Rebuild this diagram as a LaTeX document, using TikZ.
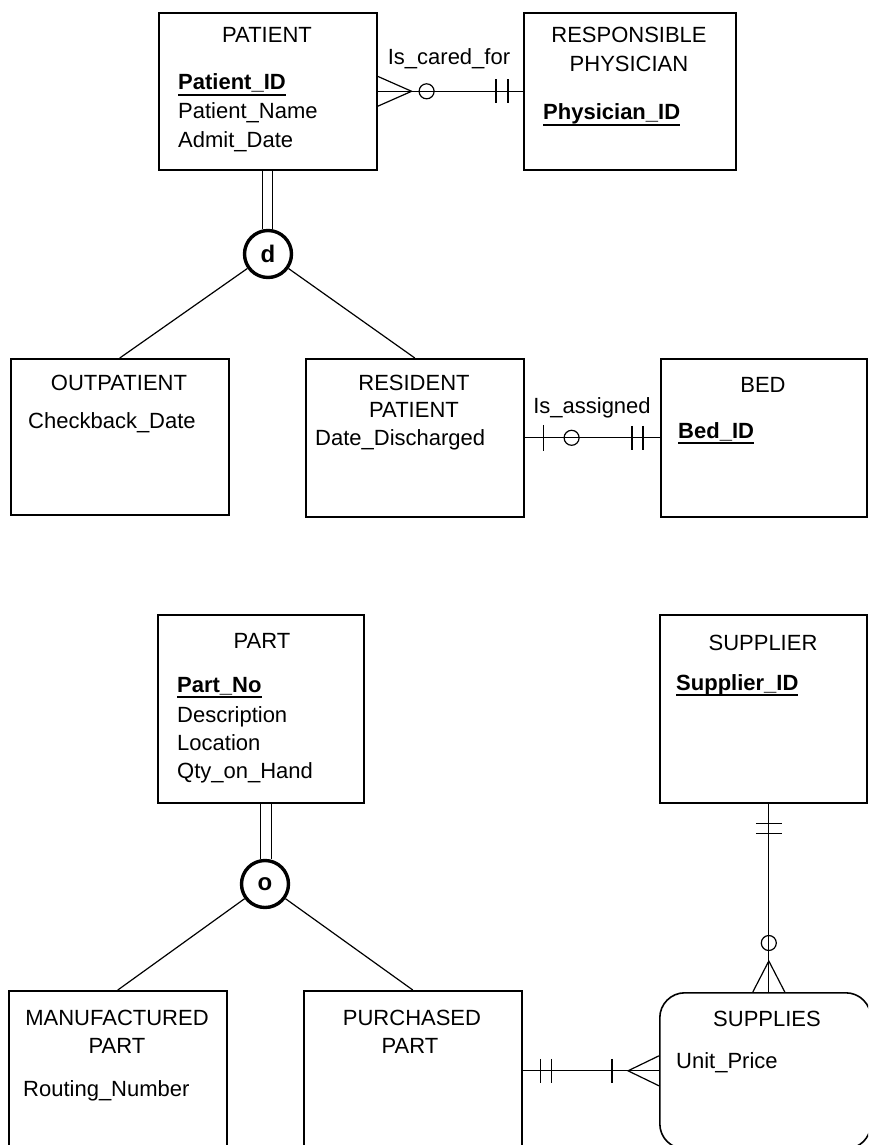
\documentclass[tikz,border=0pt]{standalone}
\usepackage{fontspec}
\setmainfont{Liberation Sans}
\newcommand\fs{\fontsize{22}{26}\selectfont}
\newsavebox\kbox
\newcommand\keyat[1]{\sbox\kbox{\bfseries #1}\rlap{\rule[-6pt]{\wd\kbox}{1.6pt}}\usebox\kbox}
\begin{document}
\begin{tikzpicture}[x=1pt,y=-1pt,
  entity/.style={draw, line width=1.6pt, inner sep=0pt, anchor=north west},
  ttl/.style={anchor=base, inner sep=0pt, font=\fs},
  attr/.style={anchor=base west, inner sep=0pt, font=\fs},
  spec/.style={circle, draw, line width=3.4pt, minimum size=47pt, inner sep=0pt, font=\fontsize{24}{28}\selectfont\bfseries},
  conn/.style={line width=1.2pt}]
\useasboundingbox (0,0) rectangle (868,1145);
\clip (0,0) rectangle (868,1145);
% ---------- top diagram ----------
\node[entity, minimum width=218pt, minimum height=157pt] (patient) at (158,12) {};
\node[ttl] (t-patient) at (267,43) {PATIENT};
\node[attr] (a-pid) at (178,90) {\keyat{Patient\_ID}};
\node[attr] (a-pname) at (178,118) {Patient\_Name};
\node[attr] (a-adate) at (178,147) {Admit\_Date};

\node[entity, minimum width=212pt, minimum height=157pt] (phys) at (523,12) {};
\node[ttl] (t-phys1) at (629,43) {RESPONSIBLE};
\node[ttl] (t-phys2) at (629,72) {PHYSICIAN};
\node[attr] (a-physid) at (543,120) {\keyat{Physician\_ID}};

\node[ttl] (l-care) at (449,65) {Is\_cared\_for};
\draw[conn] (patient.east) -- (phys.west);
\draw[conn] ([yshift=15pt]patient.east) -- ++(34,15) -- ([yshift=-15pt]patient.east);
\draw[conn] ([xshift=49pt]patient.east) circle[radius=7.5pt];
\draw[conn] ([xshift=-27pt,yshift=12pt]phys.west) -- ++(0,24);
\draw[conn] ([xshift=-15pt,yshift=12pt]phys.west) -- ++(0,24);

\node[spec] (dcirc) at (268,254) {d};
\coordinate (pl) at ([xshift=-5pt]patient.south);
\coordinate (pr) at ([xshift=5pt]patient.south);
\draw[conn] (pl) -- (pl |- dcirc.north);
\draw[conn] (pr) -- (pr |- dcirc.north);

\node[entity, minimum width=218pt, minimum height=156pt] (outp) at (10,358) {};
\node[ttl] (t-outp) at (119,390) {OUTPATIENT};
\node[attr] (a-check) at (28,428) {Checkback\_Date};

\node[entity, minimum width=218pt, minimum height=158pt] (resp) at (305,358) {};
\node[ttl] (t-resp1) at (414,390) {RESIDENT};
\node[ttl] (t-resp2) at (414,417) {PATIENT};
\node[attr] (a-disch) at (315,445) {Date\_Discharged};

\draw[conn] (dcirc) -- (outp.north);
\draw[conn] (dcirc) -- (resp.north);

\node[entity, minimum width=206pt, minimum height=158pt] (bed) at (660,358) {};
\node[ttl] (t-bed) at (763,392) {BED};
\node[attr] (a-bedid) at (678,438) {\keyat{Bed\_ID}};

\node[ttl] (l-assign) at (592,413) {Is\_assigned};
\draw[conn] (resp.east) -- (bed.west);
\draw[conn] ([xshift=19pt,yshift=13pt]resp.east) -- ++(0,26);
\draw[conn] ([xshift=47pt]resp.east) circle[radius=7.5pt];
\draw[conn] ([xshift=-28pt,yshift=12pt]bed.west) -- ++(0,24);
\draw[conn] ([xshift=-17pt,yshift=12pt]bed.west) -- ++(0,24);

% ---------- bottom diagram ----------
\node[entity, minimum width=206pt, minimum height=188pt] (part) at (157,614) {};
\node[ttl] (t-part) at (262,648) {PART};
\node[attr] (a-partno) at (177,692) {\keyat{Part\_No}};
\node[attr] (a-desc) at (177,722) {Description};
\node[attr] (a-loc) at (177,750) {Location};
\node[attr] (a-qty) at (177,778) {Qty\_on\_Hand};

\node[spec] (ocirc) at (265,884) {o};
\coordinate (ql) at (part.south);
\coordinate (qr) at ([xshift=11pt]part.south);
\draw[conn] (ql) -- (ql |- ocirc.north);
\draw[conn] (qr) -- (qr |- ocirc.north);

\node[entity, minimum width=218pt, minimum height=160pt] (manu) at (8,990) {};
\node[ttl] (t-manu1) at (117,1025) {MANUFACTURED};
\node[ttl] (t-manu2) at (117,1053) {PART};
\node[attr] (a-route) at (23,1096) {Routing\_Number};

\node[entity, minimum width=218pt, minimum height=160pt] (purch) at (303,990) {};
\node[ttl] (t-purch1) at (412,1025) {PURCHASED};
\node[ttl] (t-purch2) at (410,1053) {PART};

\draw[conn] (ocirc) -- (manu.north);
\draw[conn] (ocirc) -- (purch.north);

\node[entity, minimum width=207pt, minimum height=188pt] (supplier) at (659,614) {};
\node[ttl] (t-supplier) at (763,650) {SUPPLIER};
\node[attr] (a-supid) at (676,690) {\keyat{Supplier\_ID}};

\node[entity, rounded corners=25pt, minimum width=211pt, minimum height=156pt] (supplies) at (659,992) {};
\node[ttl] (t-supplies) at (767,1026) {SUPPLIES};
\node[attr] (a-price) at (676,1068) {Unit\_Price};

% PURCHASED PART -- SUPPLIES
\draw[conn] (purch.east) -- (supplies.west);
\draw[conn] ([xshift=18pt,yshift=12pt]purch.east) -- ++(0,24);
\draw[conn] ([xshift=29pt,yshift=12pt]purch.east) -- ++(0,24);
\draw[conn] ([xshift=-47pt,yshift=12pt]supplies.west) -- ++(0,24);
\draw[conn] ([yshift=15pt]supplies.west) -- ++(-31,15) -- ([yshift=-15pt]supplies.west);

% SUPPLIER -- SUPPLIES
\coordinate (sa) at ([xshift=5.5pt]supplier.south);
\coordinate (sb) at (sa |- supplies.north);
\draw[conn] (sa) -- (sb);
\draw[conn] ([xshift=-13pt,yshift=-20pt]sa) -- ++(26,0);
\draw[conn] ([xshift=-13pt,yshift=-30pt]sa) -- ++(26,0);
\draw[conn] ([yshift=49pt]sb) circle[radius=7.5pt];
\draw[conn] ([xshift=-16pt]sb) -- ++(16,-31) -- ([xshift=16pt]sb);
\end{tikzpicture}
\end{document}
